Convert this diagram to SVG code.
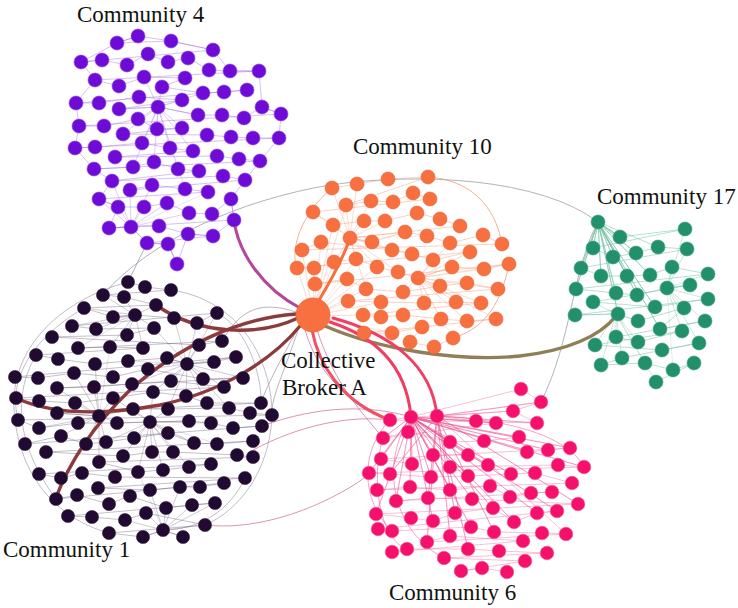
<svg xmlns="http://www.w3.org/2000/svg" xmlns:xlink="http://www.w3.org/1999/xlink" width="738" height="608" viewBox="0 0 738 608">
<style>
.e{fill:none}
.n{fill:none;stroke:none}
.e4{stroke:#9a68e2;stroke-width:.7;opacity:.6}
.e1{stroke:#4a3a58;stroke-width:.6;opacity:.55}
.e10{stroke:#f59a78;stroke-width:.7;opacity:.65}
.e17{stroke:#6fbf9f;stroke-width:.7;opacity:.7}
.e6{stroke:#ec4f8e;stroke-width:.6;opacity:.6}
.f{opacity:.45}
.n4{marker:url(#m4)}
.n1{marker:url(#m1)}
.n10{marker:url(#m10)}
.n17{marker:url(#m17)}
.n6{marker:url(#m6)}
.thin{fill:none;stroke-width:.8}
.thick{fill:none;stroke-linecap:round}
.lbl{font-size:23px;fill:#111}
</style>
<defs>
<marker id="m4" markerUnits="userSpaceOnUse" markerWidth="16" markerHeight="16" refX="8" refY="8" overflow="visible"><circle cx="8" cy="8" r="7" fill="#6f0bd6" stroke="#8d45e0" stroke-width=".6"/></marker>
<marker id="m1" markerUnits="userSpaceOnUse" markerWidth="16" markerHeight="16" refX="8" refY="8" overflow="visible"><circle cx="8" cy="8" r="6.6" fill="#210a31" stroke="#3c2a4a" stroke-width=".6"/></marker>
<marker id="m10" markerUnits="userSpaceOnUse" markerWidth="16" markerHeight="16" refX="8" refY="8" overflow="visible"><circle cx="8" cy="8" r="7" fill="#f8703f" stroke="#e86030" stroke-width=".6"/></marker>
<marker id="m17" markerUnits="userSpaceOnUse" markerWidth="16" markerHeight="16" refX="8" refY="8" overflow="visible"><circle cx="8" cy="8" r="7" fill="#21906b" stroke="#3aa07c" stroke-width=".6"/></marker>
<marker id="m6" markerUnits="userSpaceOnUse" markerWidth="16" markerHeight="16" refX="8" refY="8" overflow="visible"><circle cx="8" cy="8" r="6.8" fill="#f5106b" stroke="#f0508e" stroke-width=".6"/></marker>
<polyline id="p4" points="138,36 117,43 171,41 213,50 81,62 102,60 127,65 148,54 168,62 188,58 209,70 230,71 259,71 95,80 119,86 144,77 185,78 162,87 203,93 224,92 247,90 76,103 99,103 139,97 182,100 119,109 158,107 198,115 222,115 244,118 262,107 281,114 79,126 104,126 138,119 157,129 182,128 123,134 207,135 231,137 253,138 279,138 75,148 95,147 142,143 170,148 193,151 115,157 217,156 239,159 260,161 94,169 133,167 154,162 178,169 199,171 112,181 223,176 245,180 130,190 152,185 185,189 208,192 99,199 118,207 144,207 167,203 189,213 212,214 231,199 234,220 109,228 131,227 159,226 188,234 213,236 147,243 168,244 177,264"/>
<polyline id="p1" points="128,282 145,287 171,290 103,295 124,297 156,305 84,308 113,317 135,315 174,318 197,323 217,313 72,326 96,329 154,328 127,335 52,337 199,345 222,341 78,348 110,347 143,348 36,355 58,359 95,364 128,361 167,358 187,364 214,362 236,357 15,377 38,378 74,373 113,377 148,369 203,379 243,378 57,388 94,387 132,384 171,381 224,387 16,398 39,401 75,403 113,398 153,392 186,396 207,403 261,403 57,413 99,416 133,409 168,409 229,408 250,413 272,415 18,420 39,428 78,423 117,423 150,422 189,421 211,423 233,428 262,426 25,444 61,436 86,444 106,442 134,438 168,433 194,443 217,444 253,441 46,452 123,456 152,452 173,452 237,455 253,457 99,462 138,472 163,470 189,467 211,464 39,474 61,478 82,473 115,477 245,478 98,488 150,490 180,487 200,487 224,483 56,499 77,495 109,504 130,496 166,508 192,505 215,503 68,516 92,517 125,520 146,513 205,525 109,533 143,537 163,530 183,537"/>
<polyline id="p10" points="332,188 357,184 388,179 428,177 346,205 371,201 393,202 413,193 430,199 313,212 333,225 364,221 385,221 417,213 440,219 460,226 350,238 372,242 405,232 427,236 450,243 483,235 502,244 302,250 321,242 392,250 412,254 433,260 470,252 297,268 314,268 334,262 356,259 377,267 398,272 418,278 452,267 484,269 509,264 315,284 347,279 366,289 403,292 440,286 467,283 498,289 348,301 381,302 424,303 456,302 481,303 363,315 381,317 403,315 441,319 467,321 496,319 364,333 392,333 422,327 410,342 434,347 453,338"/>
<polyline id="p17" points="598,222 620,237 685,229 593,248 613,257 636,253 658,247 687,249 581,268 601,276 627,276 650,275 672,267 708,274 576,289 616,293 637,295 667,288 690,285 593,302 655,307 708,299 575,315 618,314 638,321 684,308 660,329 705,321 616,337 638,342 682,331 595,345 662,350 699,343 622,358 601,365 645,363 673,370 694,363 656,382"/>
<polyline id="p6" points="521,389 541,402 513,411 537,423 390,420 411,417 437,416 476,421 496,423 383,438 408,432 450,442 484,441 519,437 527,452 548,450 570,448 381,459 412,464 433,455 468,455 488,465 450,467 558,465 584,467 369,473 390,474 431,477 468,476 511,474 535,473 572,483 377,490 410,487 450,490 490,486 510,497 531,493 552,492 396,501 428,498 472,499 578,504 376,514 411,518 433,521 455,513 493,508 514,522 537,513 557,511 378,529 392,531 471,527 494,532 542,533 566,534 427,542 450,536 523,541 392,552 407,549 468,549 499,551 547,553 444,558 525,561 461,571 482,568 507,572"/>
</defs>
<rect width="738" height="608" fill="#fff"/>
<g id="connectors">
<use xlink:href="#p4" href="#p4" class="e e4"/>
<g class="f">
<polyline class="e e4" points="158,107 144,77 158,107 162,87 158,107 182,100 158,107 138,119 158,107 157,129 158,107 182,128 158,107 170,148 158,107 142,143 158,107 193,151 158,107 198,115 158,107 203,93 158,107 119,109 158,107 123,134 158,107 154,162 158,107 178,169 158,107 133,167 158,107 185,189"/>
<polyline class="e e4" points="131,227 112,181 131,227 130,190 131,227 152,185 131,227 118,207 131,227 144,207 131,227 109,228 131,227 147,243 131,227 99,199 131,227 167,203 131,227 189,213 131,227 208,192"/>
</g>
<polyline class="e e4" points="81,62 95,80 76,103 79,126 75,148 94,169 112,181 99,199 118,207 109,228 131,227 147,243 168,244 177,264 188,234 213,236 234,220 231,199 245,180 260,161 279,138 281,114 262,107 259,71 230,71 213,50 171,41 138,36 117,43 81,62"/>
<use xlink:href="#p1" href="#p1" class="e e1"/>
<g class="f">
<polyline class="e e1" points="187,364 167,358 187,364 174,318 187,364 197,323 187,364 199,345 187,364 214,362 187,364 236,357 187,364 203,379 187,364 224,387 187,364 186,396 187,364 207,403 187,364 171,381 187,364 153,392 187,364 148,369 187,364 154,328 187,364 217,313 187,364 243,378 187,364 229,408 187,364 168,409 187,364 132,384 187,364 128,361"/>
<polyline class="e e1" points="150,422 117,423 150,422 133,409 150,422 168,409 150,422 189,421 150,422 168,433 150,422 134,438 150,422 152,452 150,422 173,452 150,422 123,456 150,422 138,472 150,422 163,470 150,422 189,467 150,422 106,442 150,422 113,398 150,422 153,392 150,422 211,423 150,422 194,443 150,422 217,444"/>
<polyline class="e e1" points="99,416 57,413 99,416 75,403 99,416 78,423 99,416 86,444 99,416 61,436 99,416 39,428 99,416 94,387 99,416 113,398 99,416 117,423 99,416 106,442 99,416 99,462 99,416 57,388 99,416 74,373 99,416 95,364 99,416 110,347"/>
<polyline class="e e1" points="163,530 143,537 163,530 183,537 163,530 166,508 163,530 146,513 163,530 125,520 163,530 192,505 163,530 180,487 163,530 150,490 163,530 205,525 163,530 215,503 163,530 138,472"/>
<polyline class="e e1" points="135,315 113,317 135,315 96,329 135,315 127,335 135,315 110,347 135,315 143,348 135,315 154,328 135,315 156,305 135,315 124,297 135,315 103,295 135,315 84,308 135,315 72,326 135,315 78,348"/>
</g>
<path class="thin" stroke="#6a5a76" opacity=".5" stroke-width=".6" d="M128,282 C60,300 5,350 15,420 C22,480 60,520 109,533 M171,290 C240,300 272,360 272,415 C270,470 240,510 205,525 M84,308 C30,340 8,380 18,420 M36,355 C10,400 20,450 56,499 M245,478 C230,510 200,530 163,530 M217,313 C250,330 262,380 261,403"/>
<use xlink:href="#p10" href="#p10" class="e e10"/>
<g class="f">
<polyline class="e e10" points="350,238 332,188 350,238 357,184 350,238 346,205 350,238 371,201 350,238 313,212 350,238 333,225 350,238 364,221 350,238 385,221 350,238 392,250 350,238 405,232 350,238 372,242 350,238 377,267 350,238 356,259 350,238 334,262 350,238 366,289 350,238 398,272 350,238 412,254 350,238 427,236"/>
<polyline class="e e10" points="418,278 433,260 418,278 452,267 418,278 440,286 418,278 467,283 418,278 484,269 418,278 470,252 418,278 450,243 418,278 424,303 418,278 403,292 418,278 456,302 418,278 441,319 418,278 467,321 418,278 481,303 418,278 498,289 418,278 509,264 418,278 496,319 418,278 453,338"/>
<polyline class="e e10" points="313,316 302,250 313,316 297,268 313,316 314,268 313,316 321,242 313,316 333,225 313,316 346,205 313,316 334,262 313,316 347,279 313,316 366,289 313,316 348,301 313,316 377,267 313,316 381,302 313,316 363,315 313,316 364,333 313,316 392,333 313,316 356,259"/>
</g>
<path class="thin" stroke="#f59a78" d="M428,177 C470,180 495,205 502,244 M332,188 C300,215 290,250 297,268 M453,338 C480,330 500,310 509,264"/>
<use xlink:href="#p17" href="#p17" class="e e17"/>
<polyline class="e e17" points="598,222 620,237 598,222 613,257 598,222 636,253 598,222 601,276 598,222 627,276 598,222 616,293 598,222 637,295 598,222 655,307 598,222 618,314 598,222 660,329 598,222 593,248 598,222 581,268 598,222 576,289 598,222 650,275 598,222 658,247"/>
<g class="f">
<polyline class="e e17" points="616,314 595,345 616,314 616,337 616,314 601,365 616,314 622,358 616,314 638,342 616,314 656,382 616,314 645,363 616,314 593,302 616,314 575,315 616,314 638,321"/>
<polyline class="e e17" points="667,288 690,285 667,288 708,274 667,288 708,299 667,288 684,308 667,288 705,321 667,288 682,331 667,288 699,343 667,288 672,267 667,288 685,229 667,288 687,249 667,288 673,370"/>
</g>
<use xlink:href="#p6" href="#p6" class="e e6"/>
<polyline class="e e6" points="411,417 383,438 411,417 381,459 411,417 412,464 411,417 433,455 411,417 450,442 411,417 468,455 411,417 488,465 411,417 476,421 411,417 496,423 411,417 519,437 411,417 527,452 411,417 548,450 411,417 570,448 411,417 511,474 411,417 468,476 411,417 431,477 411,417 450,490 411,417 410,487 411,417 396,501 411,417 472,499 411,417 493,508 411,417 537,513 411,417 557,511 411,417 584,467 411,417 369,473 411,417 376,514 411,417 433,521 411,417 471,527 411,417 514,522 411,417 521,389"/>
<polyline class="e e6" points="437,416 390,474 437,416 428,498 437,416 455,513 437,416 494,532 437,416 450,536 437,416 427,542 437,416 468,549 437,416 513,411 437,416 537,423 437,416 541,402 437,416 578,504 437,416 566,534"/>
<path class="thin" stroke="#ec5a95" opacity=".7" d="M390,420 C360,450 360,500 392,531 M411,417 C380,460 390,530 444,558 M383,438 C370,480 380,540 407,549 M437,416 C520,420 570,440 584,467"/>
<path class="thin" stroke="#d078a0" d="M253,450 C300,425 350,415 390,420 M205,525 C250,530 300,515 340,493 C355,485 365,478 369,473 M262,426 C320,405 370,405 411,417 M313,316 C330,380 360,410 383,438 M305,330 C320,380 350,400 390,420"/>
<path class="thin" stroke="#a8a0b0" d="M300,325 C280,360 265,390 261,403 M298,330 C285,370 270,400 272,415 M296,312 C260,300 240,310 222,341"/>
<path class="thin" stroke="#9aa0aa" d="M103,295 C150,240 240,200 330,185 C420,172 540,178 598,222 M147,243 L128,282 M598,222 C572,270 572,340 541,402"/>
<path class="thick" stroke="#8c3a3c" stroke-width="3.4" d="M298,318 C260,336 200,336 156,305"/>
<path class="thick" stroke="#8c3a3c" stroke-width="3.4" d="M296,314 C240,318 180,345 130,390 C97,422 70,460 55,500"/>
<path class="thick" stroke="#8c3a3c" stroke-width="3.4" d="M300,326 C272,360 222,392 160,405 C110,414 55,416 16,398"/>
<path class="thick" stroke="#b3489a" stroke-width="3" d="M234,220 C238,252 262,288 300,308"/>
<path class="thick" stroke="#8f7e56" stroke-width="3.4" d="M325,326 C380,350 460,362 520,356 C570,350 600,336 616,316"/>
<path class="thick" stroke="#f25064" stroke-width="3" d="M312,330 C318,362 340,402 390,420"/>
<path class="thick" stroke="#f23d63" stroke-width="3" d="M330,322 C372,336 406,362 411,417"/>
<path class="thick" stroke="#f23d63" stroke-width="3" d="M333,318 C392,334 432,366 437,416"/>
<path class="thick" stroke="#f8703f" stroke-width="3" d="M318,302 C330,282 344,256 350,238"/>
</g>
<g id="community-4"><use xlink:href="#p4" href="#p4" class="n n4"/></g>
<g id="community-1"><use xlink:href="#p1" href="#p1" class="n n1"/></g>
<g id="community-10"><use xlink:href="#p10" href="#p10" class="n n10"/></g>
<g id="community-17"><use xlink:href="#p17" href="#p17" class="n n17"/></g>
<g id="community-6"><use xlink:href="#p6" href="#p6" class="n n6"/></g>
<g id="broker-a"><circle cx="313" cy="315" r="17" fill="#f8703f" stroke="#ee6434" stroke-width=".8"/></g>
<g id="labels" font-family="'Liberation Serif', 'DejaVu Serif', serif">
<text class="lbl" x="77" y="22">Community 4</text>
<text class="lbl" x="353" y="154">Community 10</text>
<text class="lbl" x="597" y="204">Community 17</text>
<text class="lbl" x="3" y="557">Community 1</text>
<text class="lbl" x="389" y="600">Community 6</text>
<text class="lbl" x="281" y="368">Collective</text>
<text class="lbl" x="282" y="395">Broker A</text>
</g>
</svg>
